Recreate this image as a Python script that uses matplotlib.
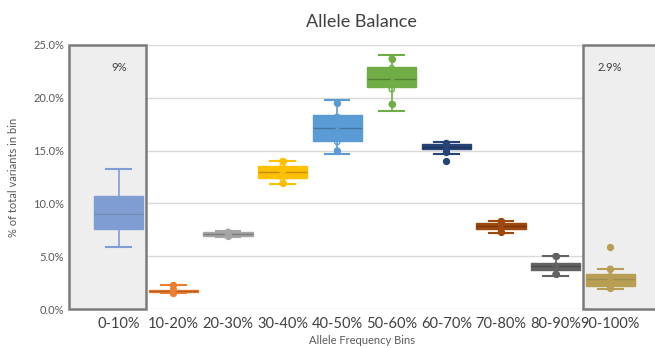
import numpy as np
import matplotlib.pyplot as plt
from matplotlib.patches import Rectangle

# categorias y estadisticas (en %)
bins = ["0-10%", "10-20%", "20-30%", "30-40%", "40-50%",
        "50-60%", "60-70%", "70-80%", "80-90%", "90-100%"]
whislo = [5.9, 1.5, 6.8, 11.85, 14.7, 18.7, 14.7, 7.15, 3.15, 1.85]
q1 = [7.6, 1.6, 6.9, 12.4, 15.95, 21.0, 15.15, 7.6, 3.65, 2.2]
med = [9.0, 1.7, 7.1, 13.0, 17.15, 21.75, 15.35, 7.9, 4.05, 2.85]
q3 = [10.7, 1.8, 7.3, 13.55, 18.35, 22.9, 15.6, 8.15, 4.4, 3.3]
whishi = [13.3, 2.25, 7.4, 14.0, 19.8, 24.05, 15.8, 8.35, 5.0, 3.8]
means = [9.2, 1.75, 7.1, 13.1, 17.0, 21.9, 15.3, 7.9, 4.1, 2.9]
fliers = [[], [], [], [], [], [], [14.0], [], [], [5.85]]
inner_pts = [
    [],
    [1.55, 1.7, 1.8, 2.25],
    [6.9, 7.1, 7.3],
    [11.9, 12.4, 12.8, 13.2, 13.5, 14.0],
    [15.0, 15.8, 16.7, 17.9, 18.2, 19.5],
    [19.4, 20.8, 21.4, 22.4, 22.8, 23.7],
    [14.9, 15.2, 15.5, 15.7],
    [7.3, 7.6, 8.0, 8.3],
    [3.3, 4.1, 5.0],
    [2.0, 2.7, 3.1, 3.8],
]
colors = ["#4472c4", "#ed7d31", "#a5a5a5", "#ffc000", "#5b9bd5",
          "#70ad47", "#264478", "#9e480e", "#636363", "#997300"]
labels_sombra = {0: "9%", 9: "2.9%"}

plt.rcParams["font.family"] = ["Lato", "DejaVu Sans"]

fig = plt.figure(figsize=(6.55, 3.48), dpi=100)
ax = fig.add_axes([0.105, 0.112, 0.895, 0.759])

stats = []
for i in range(len(bins)):
    stats.append(dict(med=med[i], q1=q1[i], q3=q3[i], whislo=whislo[i],
                      whishi=whishi[i], mean=means[i], fliers=fliers[i]))

pos = np.arange(len(bins))
bp = ax.bxp(stats, positions=pos, widths=0.9, patch_artist=True,
            showmeans=False, showfliers=False, zorder=3)
for i, c in enumerate(colors):
    bp["boxes"][i].set_facecolor(c)
    bp["boxes"][i].set_edgecolor(c)
    bp["boxes"][i].set_linewidth(1)
    bp["medians"][i].set_color("#00000040")
    bp["medians"][i].set_linewidth(1)
    for k in (2 * i, 2 * i + 1):
        bp["whiskers"][k].set_color(c)
        bp["whiskers"][k].set_linewidth(1.2)
        bp["caps"][k].set_color(c)
        bp["caps"][k].set_linewidth(1.5)
    # puntos internos y outliers
    ax.scatter([i] * len(inner_pts[i]), inner_pts[i], s=14, facecolor="none",
               edgecolor=c, linewidth=1, zorder=4)
    if inner_pts[i]:
        ax.scatter([i, i], [min(inner_pts[i]), max(inner_pts[i])], s=18,
                   color=c, zorder=4)
        ax.scatter(i, means[i], marker="x", s=20, color=c, linewidth=1, zorder=4)
    ax.scatter([i] * len(fliers[i]), fliers[i], s=18, color=c, zorder=4)

ax.set_xlim(-0.915, 9.82)
ax.set_ylim(0, 25)
ax.set_yticks(np.arange(0, 26, 5))
ax.set_yticklabels([f"{v:.1f}%" for v in np.arange(0, 26, 5)])
ax.set_xticks(pos)
ax.set_xticklabels(bins, fontsize=10.5, color="#404040")
ax.tick_params(axis="y", labelsize=8, colors="#595959", length=0)
ax.tick_params(axis="x", length=0, pad=6)
ax.grid(axis="y", color="#d9d9d9", linewidth=1, zorder=0)
ax.set_axisbelow(True)
for s in ax.spines.values():
    s.set_visible(False)

# zonas sombreadas
for i, txt in labels_sombra.items():
    if i == 0:
        x0, x1 = -0.915, 0.5
    else:
        x0, x1 = 8.5, 9.9
    ax.add_patch(Rectangle((x0, 0), x1 - x0, 25, facecolor="#eeeeee",
                           edgecolor="none", zorder=1))
    ax.add_patch(Rectangle((x0, 0), x1 - x0, 25, facecolor=(0.94, 0.94, 0.94, 0.35),
                           edgecolor="#7a7a7a", linewidth=1.8, zorder=6,
                           clip_on=False))
    ax.text(i, 22.9, txt, ha="center", va="center", fontsize=8,
            color="#404040", zorder=7)

ax.set_title("Allele Balance", fontsize=13, color="#404040", pad=13)
ax.set_ylabel("% of total variants in bin", fontsize=8, color="#595959", labelpad=10)
ax.set_xlabel("Allele Frequency Bins", fontsize=8, color="#595959")
ax.xaxis.set_label_coords(0.5, -0.1)

fig.savefig("out.png", dpi=100)
